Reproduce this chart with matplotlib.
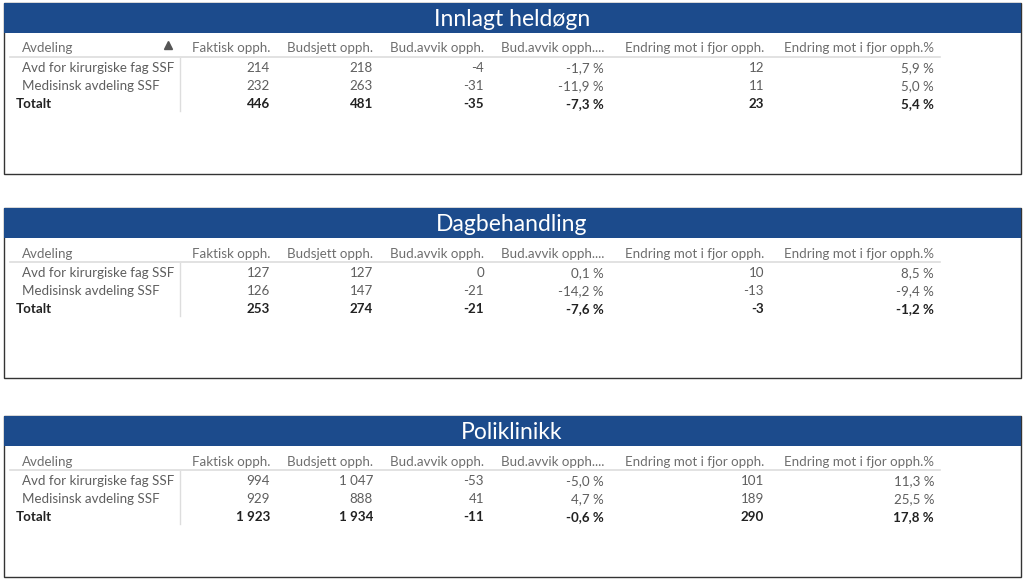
import matplotlib
matplotlib.use("Agg")
import matplotlib.pyplot as plt
from matplotlib.patches import Rectangle

plt.rcParams['font.family'] = ['Lato', 'DejaVu Sans']

# ---- data ----
titles = ["Innlagt heldøgn", "Dagbehandling", "Poliklinikk"]
columns = ["Faktisk opph.", "Budsjett opph.", "Bud.avvik opph.", "Bud.avvik opph....",
           "Endring mot i fjor opph.", "Endring mot i fjor opph.%"]
departments = ["Avd for kirurgiske fag SSF", "Medisinsk avdeling SSF"]
total_label = "Totalt"

innlagt_kir = ["214", "218", "-4", "-1,7 %", "12", "5,9 %"]
innlagt_med = ["232", "263", "-31", "-11,9 %", "11", "5,0 %"]
innlagt_tot = ["446", "481", "-35", "-7,3 %", "23", "5,4 %"]

dag_kir = ["127", "127", "0", "0,1 %", "10", "8,5 %"]
dag_med = ["126", "147", "-21", "-14,2 %", "-13", "-9,4 %"]
dag_tot = ["253", "274", "-21", "-7,6 %", "-3", "-1,2 %"]

poli_kir = ["994", "1 047", "-53", "-5,0 %", "101", "11,3 %"]
poli_med = ["929", "888", "41", "4,7 %", "189", "25,5 %"]
poli_tot = ["1 923", "1 934", "-11", "-0,6 %", "290", "17,8 %"]

sections = [
    (innlagt_kir, innlagt_med, innlagt_tot),
    (dag_kir, dag_med, dag_tot),
    (poli_kir, poli_med, poli_tot),
]

# ---- layout (pixels) ----
W, H = 1024, 580
fig = plt.figure(figsize=(W / 100, H / 100), dpi=100)
ax = fig.add_axes([0, 0, 1, 1])
ax.set_xlim(0, W)
ax.set_ylim(H, 0)
ax.axis('off')

blue = "#1C4B8C"
panel_tops = [3, 208, 416]
panel_bottoms = [174, 378, 577]
col_right = [270, 373, 484, 604, 764, 934]
fs = 9.6
grey_txt = "#5e5e5e"
hdr_txt = "#6e6e6e"

for i, (title, rows) in enumerate(zip(titles, sections)):
    top = panel_tops[i]
    bot = panel_bottoms[i]
    ax.add_patch(Rectangle((4, top), 1017, bot - top, facecolor='white',
                           edgecolor='#333333', linewidth=1.0))
    ax.add_patch(Rectangle((4, top), 1017, 30, facecolor=blue, edgecolor='none'))
    ax.text(512, top + 23, title, color='white', fontsize=16.5, ha='center',
            va='baseline')

    hy = top + 45
    ax.text(22, hy + 4.5, "Avdeling", color=hdr_txt, fontsize=fs, ha='left',
            va='baseline')
    if i == 0:
        ax.plot([168], [hy - 3], marker='^', color='#555555', markersize=6,
                linestyle='none')
    for c, x in zip(columns, col_right):
        ax.text(x, hy + 4.5, c, color=hdr_txt, fontsize=fs, ha='right', va='baseline')
    ax.plot([10, 940], [hy + 9, hy + 9], color='#dddddd', linewidth=1.2)
    ax.plot([180, 180], [hy + 10, hy + 63], color='#dddddd', linewidth=1.0)

    r_y = [hy + 19.5, hy + 37.5, hy + 55.5]
    labels = departments + [total_label]
    for j, (vals, lab, y) in enumerate(zip(rows, labels, r_y)):
        bold = (j == 2)
        color = '#222222' if bold else grey_txt
        weight = 'bold' if bold else 'normal'
        ax.text(16 if bold else 22, y + 4.5, lab, color=color, fontsize=fs,
                fontweight=weight, ha='left', va='baseline')
        for v, x in zip(vals, col_right):
            ax.text(x, y + 4.5, v, color=color, fontsize=fs, fontweight=weight,
                    ha='right', va='baseline')

fig.savefig("out.png", dpi=100, facecolor='white')
